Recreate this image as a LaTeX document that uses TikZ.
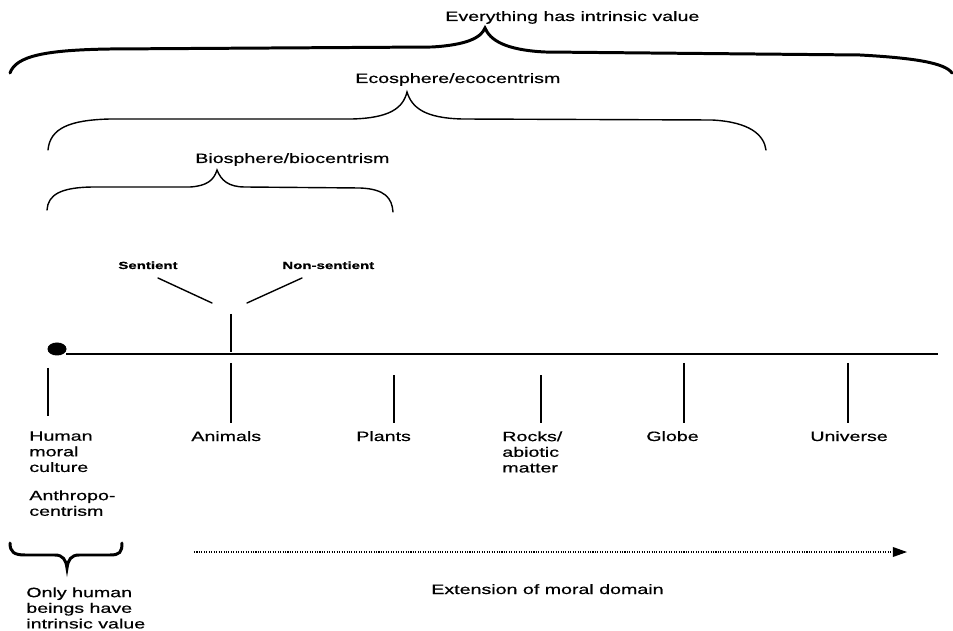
\documentclass[tikz,border=0pt]{standalone}
\usepackage{fontspec}
\setmainfont{Liberation Sans}[FakeStretch=1.45,FakeBold=0.6]
\usepackage{tikz}
\usetikzlibrary{arrows.meta}

\begin{document}
\begin{tikzpicture}[x=0.02cm,y=-0.02cm,
	lbl/.style={inner sep=0pt,font=\fontsize{7.7}{8.9}\selectfont},
	small/.style={inner sep=0pt,font=\bfseries\fontsize{5.9}{7}\selectfont},
	bigbrace/.style={line width=1.7pt,line cap=round},
	brace/.style={line width=0.8pt,line cap=round},
	tick/.style={line width=1.1pt}]
					\useasboundingbox (0,0) rectangle (953,631);
					% braces and their labels
					\node[lbl,anchor=base west] (everything) at (445,21) {Everything has intrinsic value};
					\draw[bigbrace] (10,73) .. controls (16,56) and (45,50) .. (110,49) to (432,47) .. controls (466,45) and (481,38) .. (485,28) .. controls (490,40) and (505,50) .. (545,52) to (860,55) .. controls (915,58) and (945,63) .. (952,73);
					\node[lbl,anchor=base west] (eco) at (355,83) {Ecosphere/ecocentrism};
					\draw[brace] (48,150) .. controls (50,128) and (70,120) .. (110,119) to (352,119) .. controls (390,118) and (403,108) .. (407,92) .. controls (412,108) and (425,118) .. (462,119) to (712,120) .. controls (750,122) and (764,135) .. (766,150);
					\node[lbl,anchor=base west] (bio) at (195,163) {Biosphere/biocentrism};
					\draw[brace] (47,210) .. controls (48,195) and (60,187) .. (95,187) to (190,187) .. controls (207,186) and (214,180) .. (217,170) .. controls (221,180) and (228,187) .. (245,187) to (360,188) .. controls (385,189) and (392,198) .. (393,212);
					% sentient / non-sentient
					\node[small,anchor=base west] (sentient) at (118,269) {Sentient};
					\node[small,anchor=base west] (nonsentient) at (282,269) {Non-sentient};
					\coordinate (sentA) at (158,278);
					\coordinate (sentB) at (212,303);
					\coordinate (nonA) at (302,278);
					\coordinate (nonB) at (247,303);
					\draw[brace] (sentA) to (sentB);
					\draw[brace] (nonA) to (nonB);
					% the axis
					\coordinate (dot) at (57,349);
					\fill (dot) ellipse [x radius=9.5, y radius=6.5];
					\coordinate (axisstart) at (66,354);
					\coordinate (axisend) at (938,354);
					\draw[tick] (axisstart) to (axisend);
					\draw[tick] (231,314) to (231,352);
					\draw[tick] (48,368) to (48,416);
					\draw[tick] (231,363) to (231,423);
					\draw[tick] (394,375) to (394,423);
					\draw[tick] (541,375) to (541,423);
					\draw[tick] (684,363) to (684,423);
					\draw[tick] (848,363) to (848,423);
					% labels under the axis
					\node[lbl,anchor=north west,align=left] (human) at (29,431) {Human\\moral\\culture};
					\node[lbl,anchor=base west] (animals) at (191,441) {Animals};
					\node[lbl,anchor=base west] (plants) at (356,441) {Plants};
					\node[lbl,anchor=north west,align=left] (rocks) at (502,431) {Rocks/\\abiotic\\matter};
					\node[lbl,anchor=base west] (globe) at (646,441) {Globe};
					\node[lbl,anchor=base west] (universe) at (810,441) {Universe};
					\node[lbl,anchor=north west,align=left] (anthropo) at (29,490) {Anthropo-\\centrism};
					% only humans
					\draw[bigbrace] (10,543) .. controls (10,552) and (14,555) .. (25,555) to (55,555) .. controls (63,555) and (66,560) .. (67,568) .. controls (68,560) and (71,555) .. (79,555) to (110,555) .. controls (120,555) and (122,552) .. (122,543);
					\node[lbl,anchor=north west,align=left] (onlyhuman) at (26,587) {Only human\\beings have\\intrinsic value};
					% extension arrow
					\coordinate (extstart) at (194,552);
					\coordinate (extend) at (907,552);
					\draw[line width=0.7pt,dash pattern=on 0.6pt off 0.8pt,-{Triangle[length=8pt,width=5.5pt]}] (extstart) to (extend);
					\node[lbl,anchor=base west] (extension) at (431,594) {Extension of moral domain};
				\end{tikzpicture}
\end{document}
